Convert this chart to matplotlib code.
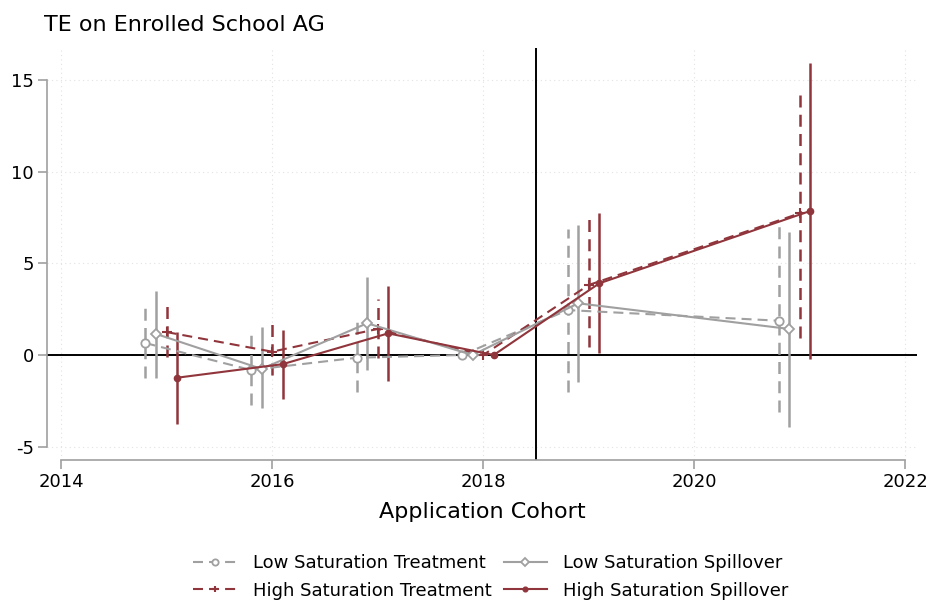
import numpy as np
import matplotlib.pyplot as plt

plt.rcParams["axes.unicode_minus"] = False

cohorts = np.array([2015, 2016, 2017, 2018, 2019, 2021])

# point estimates and 95% CI bounds (2018 is the reference cohort)
low_treat = [0.65, -0.82, -0.15, 0.0, 2.45, 1.87]
low_treat_lo = [-1.25, -2.73, -2.0, np.nan, -2.0, -3.09]
low_treat_hi = [2.6, 1.15, 1.82, np.nan, 6.86, 7.04]

low_spill = [1.15, -0.76, 1.73, 0.0, 2.82, 1.42]
low_spill_lo = [-1.25, -2.9, -0.82, np.nan, -1.5, -3.91]
low_spill_hi = [3.5, 1.53, 4.27, np.nan, 7.1, 6.73]

high_treat = [1.25, 0.18, 1.42, 0.0, 3.82, 7.73]
high_treat_lo = [-0.1, -1.1, -0.18, np.nan, 0.45, 0.91]
high_treat_hi = [2.8, 1.75, 3.05, np.nan, 7.45, 14.58]

high_spill = [-1.24, -0.5, 1.18, 0.0, 3.91, 7.86]
high_spill_lo = [-3.77, -2.4, -1.4, np.nan, 0.09, -0.24]
high_spill_hi = [1.27, 1.36, 3.76, np.nan, 7.73, 15.95]

GRAY = "#a0a0a0"
RED = "#90353b"
DASH = (0, (4.8, 2.9))

series = [
    ("Low Saturation Treatment", low_treat, low_treat_lo, low_treat_hi, -0.2,
     dict(color=GRAY, ls=DASH, marker="o", mfc="white", ms=6, mew=1.3)),
    ("High Saturation Treatment", high_treat, high_treat_lo, high_treat_hi, 0.0,
     dict(color=RED, ls=DASH, marker="+", ms=6.5, mew=1.5)),
    ("Low Saturation Spillover", low_spill, low_spill_lo, low_spill_hi, -0.1,
     dict(color=GRAY, ls="-", marker="D", mfc="white", ms=5.5, mew=1.3)),
    ("High Saturation Spillover", high_spill, high_spill_lo, high_spill_hi, 0.1,
     dict(color=RED, ls="-", marker="o", ms=4.5, mew=1)),
]

fig = plt.figure(figsize=(9.3, 6.01), dpi=100)
ax = fig.add_axes([47 / 930, 141 / 601, 870 / 930, 412 / 601])

ax.axhline(0, color="black", lw=1.4, zorder=1)
ax.axvline(2018.5, color="black", lw=1.4, zorder=1)

for label, est, lo, hi, off, style in series:
    x = cohorts + off
    lo = np.array(lo, dtype=float)
    hi = np.array(hi, dtype=float)
    ok = ~np.isnan(lo)
    ax.vlines(x[ok], lo[ok], hi[ok], color=style["color"], lw=1.8,
              linestyles=[style["ls"]], zorder=2)
    ax.plot(x, est, lw=1.5, label=label, zorder=3, **style)

ax.set_xlim(2013.867, 2022.11)
ax.set_ylim(-5.73, 16.75)
ax.set_xticks([2014, 2016, 2018, 2020, 2022])
ax.set_yticks([-5, 0, 5, 10, 15])
ax.grid(True, color="#e2e2e2", linestyle=(0, (1, 3)), lw=0.8)
ax.set_axisbelow(True)

for side in ["top", "right"]:
    ax.spines[side].set_visible(False)
ax.spines["left"].set_bounds(-5, 15)
ax.spines["bottom"].set_bounds(2014, 2022)
for side in ["left", "bottom"]:
    ax.spines[side].set_color("#a0a0a0")
    ax.spines[side].set_linewidth(1.2)
ax.tick_params(length=6.5, width=1.2, color="#a0a0a0", labelsize=13, pad=3)

ax.set_xlabel("Application Cohort", fontsize=16, labelpad=8)
fig.text(44 / 930, 1 - 25 / 601, "TE on Enrolled School AG", fontsize=16,
         ha="left", va="center")

ax.legend(loc="center", bbox_to_anchor=(491 / 930, 1 - 577 / 601),
          bbox_transform=fig.transFigure, ncol=2, frameon=False,
          fontsize=13, handlelength=2.4, columnspacing=0.65,
          handletextpad=0.9, labelspacing=0.5, markerscale=0.75)

fig.savefig("out.png", dpi=100)
